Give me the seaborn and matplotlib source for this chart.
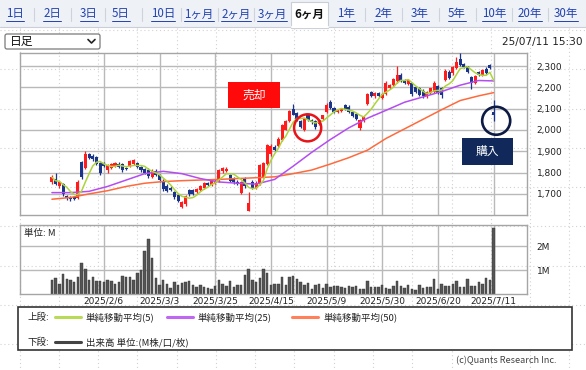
import numpy as np
import pandas as pd
import seaborn as sns
import matplotlib.pyplot as plt
from matplotlib.patches import Rectangle, Ellipse, FancyBboxPatch

# 日足 (index 0 = first session on the chart, 119 = 2025/7/11)
opens = [1755, 1768, 1735, 1748, 1690, 1685, 1686, 1683, 1850, 1822,
         1885, 1880, 1872, 1845, 1845, 1810, 1822, 1830, 1842, 1838,
         1820, 1830, 1840, 1845, 1825, 1815, 1812, 1780, 1808, 1790,
         1760, 1735, 1728, 1710, 1695, 1640, 1652, 1718, 1718, 1708,
         1718, 1728, 1750, 1740, 1750, 1760, 1806, 1808, 1790, 1775,
         1758, 1705, 1770, 1622, 1758, 1730, 1745, 1780, 1840, 1885,
         1922, 1925, 1955, 2002, 2040, 2098, 2080, 2040, 2000, 2068,
         2045, 2040, 2030, 2050, 2085, 2130, 2102, 2085, 2090, 2115,
         2108, 2085, 2075, 2010, 2040, 2120, 2178, 2158, 2172, 2150,
         2170, 2195, 2210, 2228, 2258, 2235, 2215, 2218, 2200, 2195,
         2185, 2158, 2172, 2180, 2205, 2195, 2235, 2272, 2265, 2290,
         2335, 2310, 2298, 2250, 2218, 2272, 2258, 2288, 2305, 2085]
highs = [1790, 1797, 1762, 1752, 1695, 1690, 1692, 1765, 1856, 1903,
         1892, 1886, 1878, 1850, 1850, 1840, 1845, 1850, 1848, 1845,
         1828, 1858, 1866, 1850, 1830, 1820, 1820, 1815, 1815, 1795,
         1768, 1745, 1735, 1715, 1700, 1668, 1695, 1722, 1725, 1730,
         1742, 1758, 1755, 1768, 1770, 1815, 1825, 1825, 1795, 1780,
         1765, 1762, 1778, 1710, 1765, 1760, 1840, 1850, 1935, 1935,
         1930, 1965, 2028, 2045, 2095, 2120, 2085, 2045, 2058, 2075,
         2052, 2045, 2052, 2072, 2125, 2140, 2110, 2100, 2105, 2120,
         2115, 2090, 2080, 2050, 2065, 2175, 2185, 2180, 2178, 2175,
         2230, 2215, 2245, 2300, 2265, 2240, 2240, 2222, 2205, 2200,
         2190, 2182, 2198, 2230, 2210, 2200, 2285, 2280, 2300, 2340,
         2360, 2315, 2302, 2255, 2260, 2278, 2285, 2295, 2310, 2140]
lows = [1745, 1740, 1728, 1690, 1672, 1668, 1670, 1678, 1772, 1815,
        1862, 1855, 1836, 1790, 1825, 1800, 1815, 1825, 1820, 1805,
        1812, 1825, 1835, 1820, 1805, 1795, 1775, 1775, 1785, 1758,
        1715, 1708, 1715, 1678, 1660, 1633, 1645, 1690, 1695, 1700,
        1712, 1722, 1735, 1735, 1745, 1755, 1800, 1802, 1755, 1748,
        1740, 1700, 1730, 1618, 1722, 1725, 1740, 1775, 1835, 1880,
        1900, 1918, 1950, 1998, 2035, 2068, 2040, 2010, 1995, 2040,
        2030, 2005, 2025, 2045, 2080, 2100, 2080, 2078, 2082, 2095,
        2080, 2060, 2045, 2002, 2035, 2115, 2155, 2150, 2155, 2145,
        2165, 2190, 2205, 2222, 2225, 2215, 2210, 2160, 2175, 2160,
        2150, 2150, 2168, 2175, 2170, 2148, 2230, 2240, 2260, 2285,
        2300, 2290, 2265, 2190, 2215, 2255, 2255, 2262, 2285, 2040]
closes = [1778, 1745, 1755, 1698, 1680, 1676, 1678, 1755, 1780, 1888,
          1870, 1862, 1842, 1800, 1830, 1835, 1838, 1845, 1825, 1812,
          1818, 1852, 1860, 1825, 1810, 1800, 1785, 1808, 1790, 1765,
          1722, 1712, 1720, 1685, 1668, 1660, 1688, 1698, 1700, 1725,
          1738, 1752, 1740, 1765, 1762, 1810, 1820, 1818, 1760, 1755,
          1745, 1758, 1738, 1656, 1728, 1752, 1835, 1845, 1928, 1925,
          1908, 1958, 2022, 2040, 2090, 2072, 2048, 2016, 2055, 2045,
          2035, 2012, 2048, 2068, 2118, 2105, 2085, 2095, 2100, 2098,
          2085, 2065, 2050, 2045, 2060, 2170, 2160, 2175, 2160, 2170,
          2222, 2212, 2240, 2258, 2230, 2220, 2234, 2168, 2180, 2165,
          2160, 2178, 2195, 2220, 2175, 2165, 2275, 2245, 2295, 2320,
          2305, 2295, 2270, 2220, 2255, 2258, 2280, 2268, 2290, 2070]
volume_m = [0.57, 0.67, 0.43, 0.84, 0.63, 0.60, 0.50, 0.73, 1.29, 1.07,
            0.57, 0.73, 0.53, 0.53, 0.49, 0.57, 0.53, 0.43, 0.50, 0.77,
            0.70, 0.70, 0.57, 0.87, 1.01, 1.81, 2.30, 1.51, 0.69, 0.39,
            0.57, 0.43, 0.27, 0.50, 0.39, 0.46, 0.50, 0.53, 0.36, 0.29,
            0.36, 0.29, 0.24, 0.21, 0.33, 0.59, 0.43, 0.33, 0.54, 0.29,
            0.36, 0.36, 0.80, 1.07, 0.59, 0.50, 0.67, 1.07, 0.90, 0.39,
            0.41, 0.41, 0.70, 0.39, 0.70, 0.77, 0.63, 0.50, 0.36, 0.46,
            0.20, 0.36, 0.43, 0.27, 0.40, 0.29, 0.33, 0.33, 0.29, 0.24,
            0.33, 0.30, 0.33, 0.21, 0.20, 0.53, 0.29, 0.29, 0.29, 0.36,
            0.27, 0.20, 0.33, 0.53, 0.33, 0.27, 0.36, 0.21, 0.17, 0.36,
            0.24, 0.29, 0.29, 0.63, 0.20, 0.43, 0.33, 0.33, 0.40, 0.53,
            0.29, 0.29, 0.63, 0.33, 0.33, 0.49, 0.41, 0.67, 0.60, 2.76]

# moving averages every 5 sessions
ma_idx = [0, 5, 10, 15, 20, 25, 30, 35, 40, 45, 50, 55, 60,
          65, 70, 75, 80, 85, 90, 95, 100, 105, 110, 115, 119]
ma25 = [1706, 1706, 1712, 1735, 1765, 1795, 1806, 1795, 1772, 1756, 1750, 1746, 1768,
        1830, 1895, 1955, 2010, 2055, 2092, 2130, 2155, 2180, 2210, 2232, 2230]
ma50 = [1675, 1683, 1700, 1715, 1735, 1750, 1758, 1762, 1765, 1768, 1772, 1776, 1780,
        1795, 1812, 1840, 1870, 1905, 1960, 2005, 2050, 2095, 2138, 2160, 2175]

grid_idx = [14, 29, 44, 59, 74, 89, 104, 119]
date_labels = ['2025/2/6', '2025/3/3', '2025/3/25', '2025/4/15',
               '2025/5/9', '2025/5/30', '2025/6/20', '2025/7/11']
price_ticks = [1700, 1800, 1900, 2000, 2100, 2200, 2300]
tab_labels = ['1日', '2日', '3日', '5日', '10日', '1ヶ月', '2ヶ月', '3ヶ月',
              '6ヶ月', '1年', '2年', '3年', '5年', '10年', '20年', '30年']
tab_x = [15, 52, 89, 121, 163, 199, 236, 272, 309, 346, 383, 420, 457, 494, 530, 566]

RED, BLUE = '#ff1c1c', '#1a3589'
GREEN, PURPLE, ORANGE = '#add43a', '#b44cf2', '#ff6a3c'
GRID = '#b9b9b9'

sns.set_theme(style='white')
plt.rcParams['font.family'] = ['Noto Sans CJK JP', 'DejaVu Sans']

W, H = 586, 370
fig = plt.figure(figsize=(W / 100, H / 100), dpi=100)
fig.patch.set_facecolor('white')


def px_axes(x0, y0, x1, y1):
    return fig.add_axes([x0 / W, 1 - y1 / H, (x1 - x0) / W, (y1 - y0) / H])


# page background: dotted grid, tab bar, dropdown, legend box
bg = px_axes(0, 0, W, H)
bg.set_xlim(0, W)
bg.set_ylim(H, 0)
bg.axis('off')
for y in [30, 69, 109, 148, 187, 226, 266, 305, 344]:
    bg.plot([0, W], [y, y], color='#d2d2d2', lw=0.8, ls=(0, (1, 2.5)), zorder=0)
for x in [20, 59, 98, 137, 177, 216, 255, 294, 334, 373, 412, 452, 491, 530, 569]:
    bg.plot([x, x], [28, H], color='#d2d2d2', lw=0.8, ls=(0, (1, 2.5)), zorder=0)

bg.add_patch(Rectangle((0, 0), W, 27, fc='#eef1f6', ec='none', zorder=1))
bg.plot([0, W], [27, 27], color='#c9ced8', lw=0.8, zorder=2)
bg.add_patch(Rectangle((291, 2), 37, 26, fc='white', ec='#c9ced8', lw=0.8, zorder=2))
bg.plot([291.5, 327.5], [27, 27], color='white', lw=1.5, zorder=3)
tab_texts = []
for k, (lab, x) in enumerate(zip(tab_labels, tab_x)):
    sel = lab == '6ヶ月'
    t = bg.text(x, 14, lab, ha='center', va='center', fontsize=8.3,
                color='#111111' if sel else '#2242b0',
                fontweight='bold' if sel else 'normal', zorder=4)
    if not sel:
        tab_texts.append(t)
    if k > 0 and not sel and tab_labels[k - 1] != '6ヶ月':
        xm = (tab_x[k - 1] + x) / 2
        bg.plot([xm, xm], [8, 21], color='#cdd2dc', lw=0.8, zorder=3)

bg.add_patch(FancyBboxPatch((5, 34), 95, 15, boxstyle='round,pad=0,rounding_size=2',
                            fc='white', ec='#7a7a7a', lw=0.9, zorder=2))
bg.text(10, 41.5, '日足', ha='left', va='center', fontsize=8.5, color='#111111', zorder=3)
bg.plot([88, 91.5, 95], [39.5, 43, 39.5], color='#222222', lw=1.2, zorder=3)
bg.text(583, 41.5, '25/07/11 15:30', ha='right', va='center', fontsize=7.6,
        color='#222222', family='DejaVu Sans', zorder=3)

bg.add_patch(Rectangle((18, 307), 554, 43, fc='white', ec='#333333', lw=1.2, zorder=2))
leg_fs = 6.8
bg.text(27, 317, '上段:', va='center', fontsize=leg_fs, color='#222222', zorder=3)
for (x0, col, lab) in [(55, GREEN, '単純移動平均(5)'), (167, PURPLE, '単純移動平均(25)'),
                       (292, ORANGE, '単純移動平均(50)')]:
    bg.plot([x0, x0 + 26], [317, 317], color=col, lw=2.2, alpha=0.85, zorder=3)
    bg.text(x0 + 31, 317, lab, va='center', fontsize=leg_fs, color='#222222', zorder=3)
bg.text(27, 342, '下段:', va='center', fontsize=leg_fs, color='#222222', zorder=3)
bg.plot([55, 81], [342, 342], color='#444444', lw=2.2, zorder=3)
bg.text(86, 342, '出来高 単位:(M株/口/枚)', va='center', fontsize=leg_fs,
        color='#222222', zorder=3)
bg.text(557, 361, '(c)Quants Research Inc.', ha='right', va='center', fontsize=6.6,
        color='#444444', zorder=3)

# price panel
df = pd.DataFrame({'o': opens, 'h': highs, 'l': lows, 'c': closes, 'v': volume_m})
df['i'] = np.arange(len(df))
df['ma5'] = df['c'].rolling(5, min_periods=1).mean()
cols = np.where(df['c'] >= df['o'], RED, BLUE)

ax = px_axes(20, 53, 527, 215)
ax.set_facecolor('none')
ax.vlines(df['i'], df['l'], df['h'], colors=cols, lw=0.9, zorder=3)
body = (df['c'] - df['o']).abs().clip(lower=5)
ax.bar(df['i'], body, bottom=np.minimum(df['o'], df['c']), width=0.82,
       color=cols, lw=0, zorder=4)
sns.lineplot(x=ma_idx, y=ma50, color=ORANGE, lw=1.1, ax=ax, zorder=5)
sns.lineplot(x=ma_idx, y=ma25, color=PURPLE, lw=1.1, ax=ax, zorder=5)
sns.lineplot(data=df, x='i', y='ma5', color=GREEN, lw=1.1, ax=ax, zorder=6)

ax.set_xlim(-8.6, 128)
ax.set_ylim(1601, 2361)
ax.set_xticks(grid_idx)
ax.set_xticklabels([])
ax.set_yticks(price_ticks)
ax.set_yticklabels([f'{v:,}' for v in price_ticks], family='DejaVu Sans')
ax.yaxis.tick_right()
ax.tick_params(length=0, labelsize=6.5, pad=7, colors='#222222')
ax.grid(True, color=GRID, lw=1.0)
ax.set_xlabel('')
ax.set_ylabel('')
for s in ax.spines.values():
    s.set_color('#a5a5a5')
    s.set_linewidth(1.0)

# sell / buy marks
ax.add_patch(Rectangle((47.4, 2103), 14.0, 122, fc='#ff0a0a', ec='none', zorder=7))
ax.text(54.4, 2164, '売却', ha='center', va='center', fontsize=8.5, color='white', zorder=8)
ax.add_patch(Ellipse((68.9, 2010), 7.3, 127, fc='none', ec='#e8141a', lw=1.8, zorder=8))
ax.add_patch(Rectangle((110.5, 1836), 13.8, 126.5, fc='#10295a', ec='none', zorder=7))
ax.text(117.4, 1899, '購入', ha='center', va='center', fontsize=8.5, color='white', zorder=8)
ax.add_patch(Ellipse((119.7, 2043), 7.55, 131, fc='none', ec='#0d1b44', lw=1.9, zorder=8))

# volume panel
axv = px_axes(20, 225, 527, 294)
axv.set_facecolor('none')
sns.barplot(data=df, x='i', y='v', native_scale=True, color='#555555', saturation=1,
            width=0.66, errorbar=None, edgecolor='#333333', linewidth=0.3, ax=axv)
axv.set_xlim(-8.6, 128)
axv.set_ylim(0, 2.9)
axv.set_yticks([1, 2])
axv.set_yticklabels(['1M', '2M'], family='DejaVu Sans')
axv.yaxis.tick_right()
axv.set_xticks(grid_idx)
axv.set_xticklabels(date_labels, family='DejaVu Sans')
axv.tick_params(length=0, labelsize=6.5, colors='#222222')
axv.tick_params(axis='y', pad=7)
axv.tick_params(axis='x', pad=2)
axv.grid(True, color=GRID, lw=1.0)
axv.set_axisbelow(True)
axv.set_xlabel('')
axv.set_ylabel('')
for s in axv.spines.values():
    s.set_color('#a5a5a5')
    s.set_linewidth(1.0)
axv.text(0.008, 0.88, '単位: M', transform=axv.transAxes, fontsize=6.8,
         va='center', color='#222222')

# underline the tab links
fig.canvas.draw()
rend = fig.canvas.get_renderer()
for t in tab_texts:
    bb = t.get_window_extent(rend).transformed(bg.transData.inverted())
    bg.plot([bb.x0, bb.x1], [20.5, 20.5], color='#2242b0', lw=0.7, zorder=4)

fig.savefig('out.png', dpi=100)
